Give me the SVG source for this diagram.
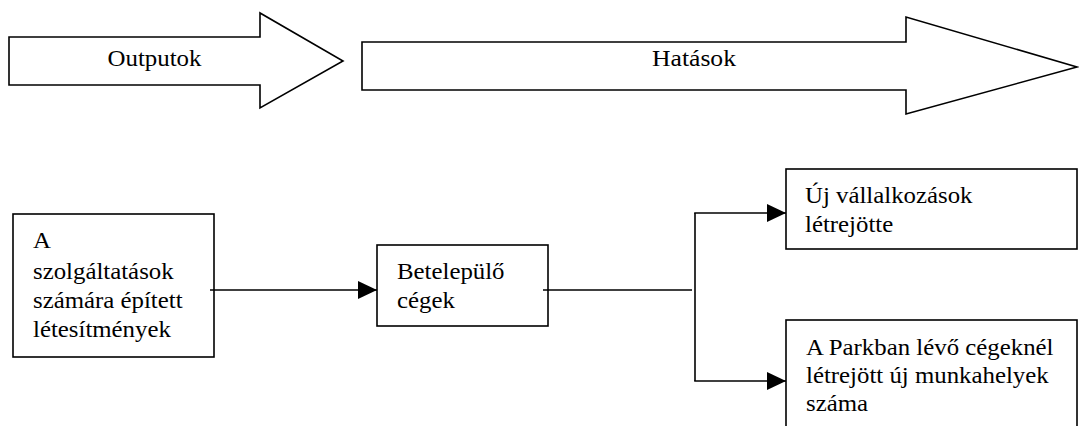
<svg xmlns="http://www.w3.org/2000/svg" width="1079" height="426" viewBox="0 0 1079 426">
<style>
.shape{fill:#fff;stroke:#000;stroke-width:1.6}
.conn{fill:none;stroke:#000;stroke-width:1.6}
text{font-family:"Liberation Serif","Times New Roman",Times,serif;fill:#000}
.t{font-size:23px}
</style>
<defs>
<marker id="ah" markerUnits="userSpaceOnUse" viewBox="0 0 19 18" refX="19" refY="9" markerWidth="19" markerHeight="18" orient="auto">
<path d="M0,0 L19,9 L0,18 z" fill="#000"/>
</marker>
</defs>
<g id="arrow-outputok">
<polygon class="shape" points="9,37 260,37 260,13 343,61 260,108 260,85 9,85"/>
<text class="t" x="154.5" y="66" text-anchor="middle" textLength="94" lengthAdjust="spacingAndGlyphs">Outputok</text>
</g>
<g id="arrow-hatasok">
<polygon class="shape" points="362,42 906,42 906,17 1077,67 906,114 906,90 362,90"/>
<text class="t" x="694" y="66" text-anchor="middle" textLength="84" lengthAdjust="spacingAndGlyphs">Hatások</text>
</g>
<g id="node-letesitmenyek">
<rect class="shape" x="13" y="214" width="201" height="143"/>
<text class="t" transform="translate(33,248) scale(1.08,1)">A</text>
<text class="t" transform="translate(33,279) scale(1.08,1)">szolgáltatások</text>
<text class="t" transform="translate(33,308) scale(1.08,1)">számára épített</text>
<text class="t" transform="translate(33,337) scale(1.08,1)">létesítmények</text>
</g>
<g id="node-betelepulo">
<rect class="shape" x="377" y="245" width="171" height="81"/>
<text class="t" transform="translate(397,279) scale(1.08,1)">Betelepülő</text>
<text class="t" transform="translate(397,308) scale(1.08,1)">cégek</text>
</g>
<g id="node-uj-vallalkozasok">
<rect class="shape" x="786" y="169" width="291" height="80"/>
<text class="t" transform="translate(805,203) scale(1.08,1)">Új vállalkozások</text>
<text class="t" transform="translate(805,232) scale(1.08,1)">létrejötte</text>
</g>
<g id="node-munkahelyek">
<rect class="shape" x="786" y="320" width="291" height="120"/>
<text class="t" transform="translate(806,355) scale(1.08,1)">A Parkban lévő cégeknél</text>
<text class="t" transform="translate(806,383) scale(1.08,1)">létrejött új munkahelyek</text>
<text class="t" transform="translate(806,411) scale(1.08,1)">száma</text>
</g>
<g id="connectors">
<line class="conn" x1="210" y1="290" x2="377" y2="290" marker-end="url(#ah)"/>
<line class="conn" x1="543" y1="290" x2="692" y2="290"/>
<line class="conn" x1="695" y1="213" x2="695" y2="381"/>
<line class="conn" x1="694.2" y1="213" x2="786" y2="213" marker-end="url(#ah)"/>
<line class="conn" x1="694.2" y1="381" x2="786" y2="381" marker-end="url(#ah)"/>
</g>
</svg>
